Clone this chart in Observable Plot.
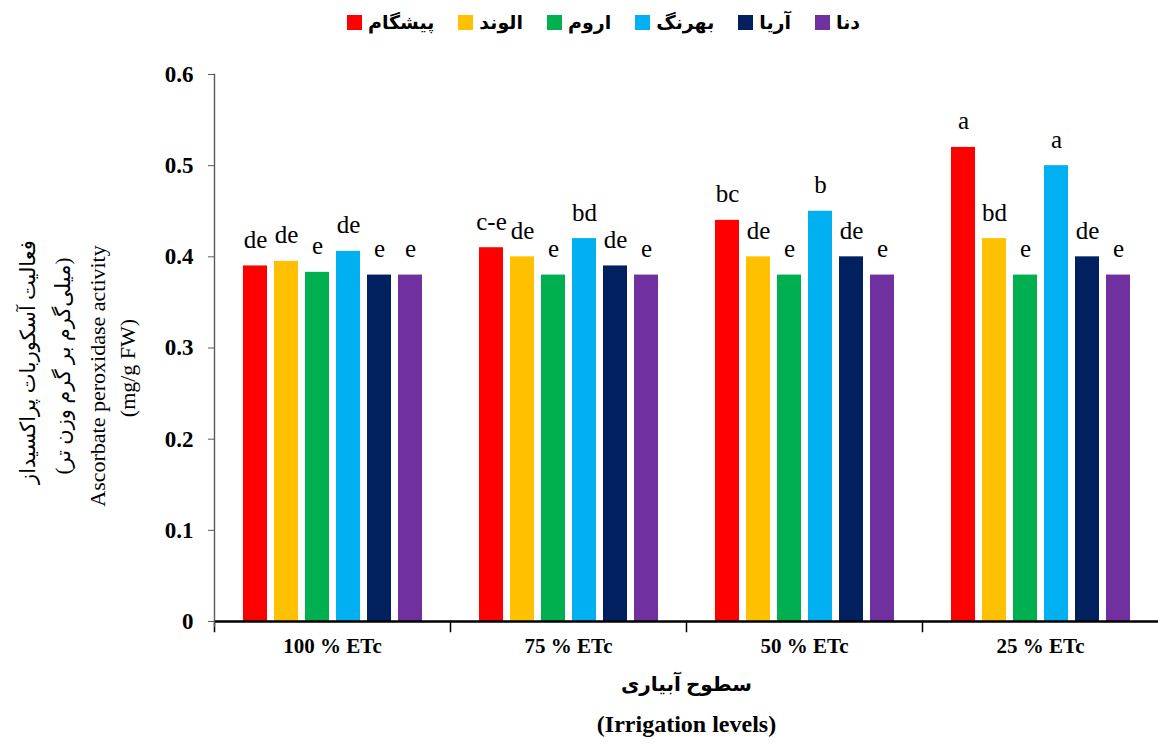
<!DOCTYPE html>
<html>
<head>
<meta charset="utf-8">
<script src="https://cdn.jsdelivr.net/npm/d3@7"></script>
<script src="https://cdn.jsdelivr.net/npm/@observablehq/plot@0.6"></script>
<style>
  body { margin: 0; background: #fff; }
  #legend { height: 44px; display: flex; align-items: center; padding-left: 347px; box-sizing: border-box;
    font-family: "Liberation Serif", "DejaVu Sans", serif; font-weight: bold; font-size: 19px; color: #000; }
  .item { display: flex; align-items: center; margin-right: 24px; }
  .sw { width: 15px; height: 15px; margin-right: 6px; }
  #chart svg { display: block; }
</style>
</head>
<body>
<div id="legend"></div>
<div id="chart"></div>
<script>
const levels = ["100 % ETc", "75 % ETc", "50 % ETc", "25 % ETc"];
const varieties = ["پیشگام", "الوند", "اروم", "بهرنگ", "آریا", "دنا"];
const colors = ["#FF0000", "#FFC000", "#00B050", "#00B0F0", "#002060", "#7030A0"];

// values per variety, in order of levels
const pishgam = [0.39, 0.41, 0.44, 0.52];
const alvand  = [0.395, 0.40, 0.40, 0.42];
const urum    = [0.383, 0.38, 0.38, 0.38];
const behrang = [0.406, 0.42, 0.45, 0.50];
const arya    = [0.38, 0.39, 0.40, 0.40];
const dena    = [0.38, 0.38, 0.38, 0.38];

const pishgamLetters = ["de", "c-e", "bc", "a"];
const alvandLetters  = ["de", "de", "de", "bd"];
const urumLetters    = ["e", "e", "e", "e"];
const behrangLetters = ["de", "bd", "b", "a"];
const aryaLetters    = ["e", "de", "de", "de"];
const denaLetters    = ["e", "e", "e", "e"];

const yTicks = [0, 0.1, 0.2, 0.3, 0.4, 0.5, 0.6];

const yTitleLines = [
  "\u200Fفعالیت آسکوربات پراکسیداز\u200F",
  "\u200F(میلی‌گرم بر گرم وزن تر)\u200F",
  "Ascorbate peroxidase activity",
  "(mg/g FW)"
];
const xTitleFa = "سطوح آبیاری";
const xTitleEn = "(Irrigation levels)";

const series = [pishgam, alvand, urum, behrang, arya, dena];
const letters = [pishgamLetters, alvandLetters, urumLetters, behrangLetters, aryaLetters, denaLetters];

const rows = [];
levels.forEach((lv, i) => {
  varieties.forEach((v, j) => {
    rows.push({level: lv, variety: v, value: series[j][i], letter: letters[j][i]});
  });
});

// legend
const legend = document.getElementById("legend");
varieties.forEach((v, j) => {
  const it = document.createElement("div");
  it.className = "item";
  const sw = document.createElement("div");
  sw.className = "sw";
  sw.style.background = colors[j];
  const tx = document.createElement("span");
  tx.textContent = v;
  it.appendChild(sw);
  it.appendChild(tx);
  legend.appendChild(it);
});

const font = '"Liberation Serif", "DejaVu Sans", serif';
const W = 1158, H = 700, mT = 30, mB = 123, mL = 214, mR = 0;
const plotH = H - mT - mB;

const yTitleDx = [-186, -151, -117, -87];
const yTitleDy = [14, 18, 28, 20];
const yTitleSize = [21, 21, 22, 22];

const chart = Plot.plot({
  width: W,
  height: H,
  marginTop: mT,
  marginBottom: mB,
  marginLeft: mL,
  marginRight: mR,
  style: {fontFamily: font, background: "#fff", color: "#000", overflow: "visible"},
  fx: {domain: levels, padding: 0, label: null},
  x: {domain: varieties, paddingInner: 0.236, paddingOuter: 0.885, axis: null},
  y: {domain: [0, 0.6], label: null},
  color: {domain: varieties, range: colors},
  marks: [
    Plot.barY(rows, {fx: "level", x: "variety", y: "value", fill: "variety"}),
    Plot.text(rows, {fx: "level", x: "variety", y: "value", text: "letter", lineAnchor: "bottom", dy: -18,
      fontSize: 25, fontFamily: font, fill: "#000"}),
    Plot.ruleY([0], {stroke: "#000", strokeWidth: 2.5}),
    Plot.frame({anchor: "left", insetTop: plotH, insetBottom: -10, stroke: "#000", strokeWidth: 1.5}),
    Plot.frame({anchor: "left", facet: "super", insetBottom: -5, stroke: "#595959", strokeWidth: 1.4}),
    Plot.axisY({ticks: yTicks, tickFormat: d3.format("~g"), tickSize: 6, tickPadding: 15, fontSize: 23,
      fontWeight: "bold", stroke: "#595959", fill: "#000", label: null}),
    Plot.axisFx({anchor: "bottom", tickSize: 0, tickPadding: 17, fontSize: 21, fontWeight: "bold", label: null, fill: "#000"}),
    ...yTitleLines.map((t, k) => Plot.text([t], {facet: "super", frameAnchor: "left", text: d => d, rotate: -90,
      dx: yTitleDx[k], dy: yTitleDy[k], textAnchor: "middle", lineAnchor: "middle",
      fontSize: yTitleSize[k], fontFamily: font, fill: "#000"})),
    Plot.text([xTitleFa], {facet: "super", frameAnchor: "bottom", text: d => d, dy: 69, fontSize: 20, fontWeight: "bold", fill: "#000"}),
    Plot.text([xTitleEn], {facet: "super", frameAnchor: "bottom", text: d => d, dy: 110, fontSize: 24, fontWeight: "bold", fill: "#000"})
  ]
});
document.getElementById("chart").appendChild(chart);
</script>
</body>
</html>
